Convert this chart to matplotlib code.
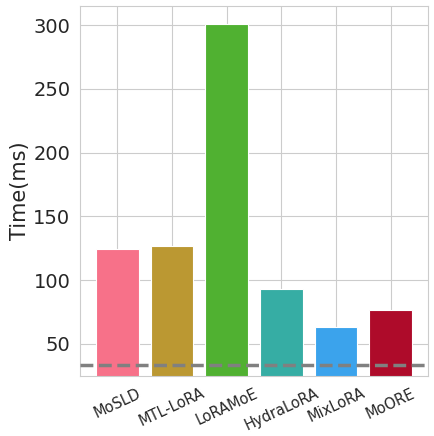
import matplotlib
matplotlib.use("Agg")
import matplotlib.pyplot as plt
import seaborn as sns

methods = ["MoSLD", "MTL-LoRA", "LoRAMoE", "HydraLoRA", "MixLoRA", "MoORE"]
times = [124.5, 126.5, 301, 93, 63.5, 76.5]
baseline = 33.5
colors = ["#f77189", "#bb9832", "#50b131", "#36ada4", "#3ba3ec", "#ae0b2a"]

sns.set_style("whitegrid")
plt.rcParams['font.family'] = ['DejaVu Sans']

fig = plt.figure(figsize=(4.35, 4.36), dpi=100)
ax = fig.add_axes([0.184, 0.138, 0.800, 0.848])
x = list(range(len(methods)))
ax.bar(x, times, width=0.78, color=colors, edgecolor="white", linewidth=0.8, zorder=2)
ax.axhline(baseline, color="gray", linestyle="--", linewidth=2.5, zorder=3)
ax.set_xlim(-0.68, 5.68)
ax.set_ylim(25, 315)
ax.set_xticks(x)
ax.set_xticklabels(methods, rotation=25, fontsize=10.5)
ax.set_yticks([50, 100, 150, 200, 250, 300])
ax.tick_params(axis='y', labelsize=14)
ax.set_ylabel("Time(ms)", fontsize=15, labelpad=2)
for s in ax.spines.values():
    s.set_color("#cccccc")
fig.savefig("out.png", dpi=100)
